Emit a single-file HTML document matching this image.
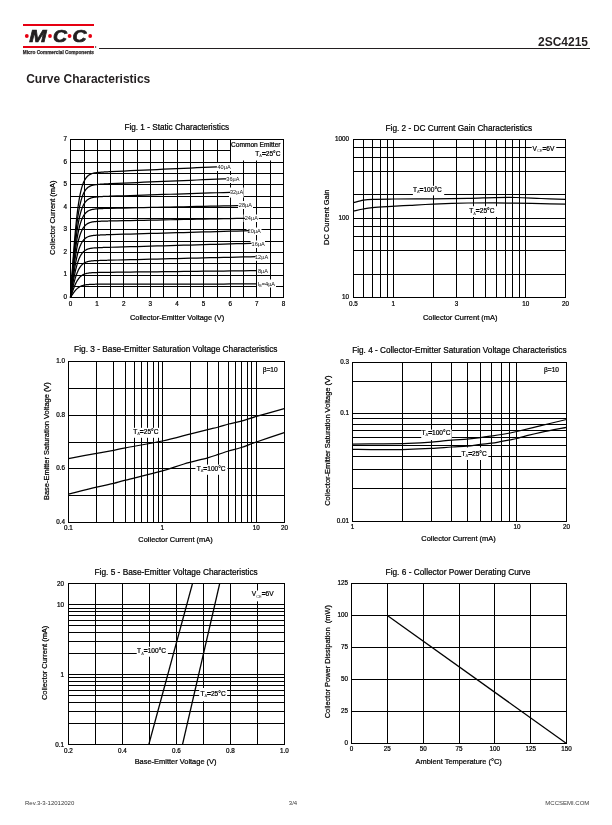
<!DOCTYPE html><html><head><meta charset="utf-8"><style>html,body{margin:0;padding:0;background:#fff;width:612px;height:825px;overflow:hidden}svg{display:block;font-family:"Liberation Sans",sans-serif;will-change:transform} text.t{stroke:#000;stroke-width:0.22px}</style></head><body>
<svg width="612" height="825" viewBox="0 0 612 825">
<rect x="23" y="24" width="71" height="2" fill="#e60012"/>
<rect x="23" y="46" width="71" height="2" fill="#e60012"/>
<circle cx="26.8" cy="36" r="1.9" fill="#e60012"/>
<circle cx="50" cy="36" r="1.9" fill="#e60012"/>
<circle cx="69.6" cy="36" r="1.9" fill="#e60012"/>
<circle cx="90.2" cy="36" r="1.9" fill="#e60012"/>
<g font-size="17" font-weight="bold" font-style="italic" fill="#231f20" stroke="#231f20" stroke-width="0.7">
<text transform="translate(29.2 42.1) scale(1.22 1)">M</text><text transform="translate(53 42.1) scale(1.14 1)">C</text><text transform="translate(72.6 42.1) scale(1.14 1)">C</text></g>
<text x="22.7" y="53.8" font-size="5.6" font-weight="bold" fill="#231f20" stroke="#231f20" stroke-width="0.25" textLength="71.3" lengthAdjust="spacingAndGlyphs">Micro Commercial Components</text>
<circle cx="95.6" cy="47" r="0.7" fill="#231f20"/>
<line x1="99" y1="48.5" x2="590" y2="48.5" stroke="#231f20" stroke-width="1"/>
<g font-size="12" font-weight="bold" fill="#231f20"><text x="588" y="45.5" text-anchor="end">2SC4215</text><text x="26.2" y="83.3">Curve Characteristics</text></g>
<g font-size="6" fill="#3a3a3a"><text x="25" y="805.1">Rev.3-3-12012020</text><text x="293" y="805" text-anchor="middle">3/4</text><text x="589.3" y="805.1" text-anchor="end">MCCSEMI.COM</text></g>
<text class="t" x="176.75" y="130.2" font-size="8.2" text-anchor="middle" font-weight="normal" fill="#000" >Fig. 1 - Static Characteristics</text>
<path d="M84.5 139V298M97.5 139V298M110.5 139V298M123.5 139V298M137.5 139V298M150.5 139V298M163.5 139V298M177.5 139V298M190.5 139V298M203.5 139V298M217.5 139V298M230.5 139V298M243.5 139V298M256.5 139V298M270.5 139V298M70 286.5H284M70 275.5H284M70 263.5H284M70 252.5H284M70 241.5H284M70 229.5H284M70 218.5H284M70 207.5H284M70 196.5H284M70 184.5H284M70 173.5H284M70 162.5H284M70 150.5H284" stroke="#000" stroke-width="1.0" fill="none"/>
<rect x="215.5" y="163" width="15.7" height="8" fill="#fff"/>
<rect x="225" y="175" width="15.2" height="8" fill="#fff"/>
<rect x="229" y="187.5" width="14.7" height="10.1" fill="#fff"/>
<rect x="238" y="201" width="15" height="8" fill="#fff"/>
<rect x="243.5" y="214.5" width="15.3" height="7.5" fill="#fff"/>
<rect x="246.5" y="227.5" width="15" height="7.5" fill="#fff"/>
<rect x="250.5" y="240.5" width="14.5" height="7.5" fill="#fff"/>
<rect x="254" y="253" width="14.5" height="7.8" fill="#fff"/>
<rect x="257" y="266.5" width="11.5" height="8" fill="#fff"/>
<rect x="257" y="279.5" width="19" height="8" fill="#fff"/>
<rect x="231" y="140" width="52.5" height="20.5" fill="#fff"/>
<path d="M70.5 297.5 L71.03 296.64 L71.56 295.79 L72.1 294.95 L72.63 294.14 L73.16 293.35 L73.69 292.59 L74.23 291.86 L74.76 291.18 L75.29 290.53 L75.83 289.93 L76.36 289.37 L76.89 288.85 L77.42 288.38 L77.95 287.94 L78.49 287.54 L79.02 287.18 L79.55 286.86 L80.09 286.56 L80.62 286.3 L81.15 286.06 L81.68 285.84 L82.22 285.65 L82.75 285.49 L83.28 285.33 L83.81 285.2 L84.34 285.08 L84.88 284.98 L85.41 284.88 L85.94 284.8 L86.48 284.73 L87.01 284.66 L87.54 284.6 L88.07 284.55 L88.61 284.51 L89.14 284.47 L89.67 284.44 L90.2 284.41 L90.74 284.38 L91.27 284.36 L91.8 284.33 L92.33 284.32 L92.87 284.3 L93.4 284.29 L93.93 284.27 L94.46 284.26 L95 284.25 L95.53 284.24 L96.06 284.24 L96.59 284.23 L97.13 284.22 L97.66 284.22 L98.19 284.21 L98.72 284.21 L99.26 284.2 L99.79 284.2 L100.32 284.2 L100.85 284.19 L101.39 284.19 L101.92 284.19 L102.45 284.19 L102.98 284.18 L103.52 284.18 L104.05 284.18 L104.58 284.18 L105.11 284.18 L105.65 284.18 L106.18 284.17 L106.71 284.17 L107.24 284.17 L107.78 284.17 L108.31 284.17 L108.84 284.17 L109.37 284.17 L109.91 284.17 L110.44 284.17 L117.09 284.15 L123.75 284.15 L130.41 284.14 L137.06 284.13 L143.72 284.12 L150.38 284.11 L157.03 284.1 L163.69 284.09 L170.34 284.08 L177 284.07 L183.66 284.06 L190.31 284.05 L196.97 284.04 L203.63 284.03 L210.28 284.02 L216.94 284.01 L223.59 284 L230.25 283.99 L236.91 283.99 L243.56 283.98 L250.22 283.97 L256.88 283.96" stroke="#000" stroke-width="1.25" fill="none" stroke-linejoin="round"/>
<path d="M70.5 297.5 L71.03 295.89 L71.56 294.29 L72.1 292.71 L72.63 291.17 L73.16 289.69 L73.69 288.26 L74.23 286.9 L74.76 285.61 L75.29 284.39 L75.83 283.26 L76.36 282.2 L76.89 281.23 L77.42 280.33 L77.95 279.51 L78.49 278.77 L79.02 278.09 L79.55 277.47 L80.09 276.92 L80.62 276.42 L81.15 275.97 L81.68 275.57 L82.22 275.22 L82.75 274.9 L83.28 274.61 L83.81 274.36 L84.34 274.14 L84.88 273.94 L85.41 273.76 L85.94 273.61 L86.48 273.47 L87.01 273.35 L87.54 273.24 L88.07 273.14 L88.61 273.06 L89.14 272.99 L89.67 272.92 L90.2 272.87 L90.74 272.81 L91.27 272.77 L91.8 272.73 L92.33 272.7 L92.87 272.67 L93.4 272.64 L93.93 272.62 L94.46 272.6 L95 272.58 L95.53 272.56 L96.06 272.55 L96.59 272.54 L97.13 272.52 L97.66 272.51 L98.19 272.49 L98.72 272.48 L99.26 272.47 L99.79 272.46 L100.32 272.45 L100.85 272.44 L101.39 272.43 L101.92 272.42 L102.45 272.41 L102.98 272.4 L103.52 272.39 L104.05 272.38 L104.58 272.37 L105.11 272.37 L105.65 272.36 L106.18 272.35 L106.71 272.35 L107.24 272.34 L107.78 272.33 L108.31 272.32 L108.84 272.32 L109.37 272.31 L109.91 272.3 L110.44 272.3 L117.09 272.22 L123.75 272.14 L130.41 272.07 L137.06 271.99 L143.72 271.92 L150.38 271.84 L157.03 271.77 L163.69 271.69 L170.34 271.62 L177 271.54 L183.66 271.47 L190.31 271.39 L196.97 271.32 L203.63 271.24 L210.28 271.17 L216.94 271.09 L223.59 271.02 L230.25 270.94 L236.91 270.87 L243.56 270.79 L250.22 270.72 L256.88 270.64" stroke="#000" stroke-width="1.25" fill="none" stroke-linejoin="round"/>
<path d="M70.5 297.5 L71.03 295.12 L71.56 292.75 L72.1 290.42 L72.63 288.15 L73.16 285.96 L73.69 283.85 L74.23 281.83 L74.76 279.93 L75.29 278.14 L75.83 276.46 L76.36 274.9 L76.89 273.46 L77.42 272.14 L77.95 270.93 L78.49 269.82 L79.02 268.82 L79.55 267.91 L80.09 267.09 L80.62 266.36 L81.15 265.69 L81.68 265.1 L82.22 264.57 L82.75 264.1 L83.28 263.68 L83.81 263.31 L84.34 262.98 L84.88 262.69 L85.41 262.43 L85.94 262.2 L86.48 261.99 L87.01 261.81 L87.54 261.66 L88.07 261.52 L88.61 261.39 L89.14 261.28 L89.67 261.19 L90.2 261.1 L90.74 261.03 L91.27 260.96 L91.8 260.9 L92.33 260.85 L92.87 260.81 L93.4 260.77 L93.93 260.74 L94.46 260.7 L95 260.68 L95.53 260.65 L96.06 260.63 L96.59 260.62 L97.13 260.6 L97.66 260.57 L98.19 260.55 L98.72 260.52 L99.26 260.5 L99.79 260.48 L100.32 260.46 L100.85 260.44 L101.39 260.42 L101.92 260.4 L102.45 260.39 L102.98 260.37 L103.52 260.35 L104.05 260.34 L104.58 260.32 L105.11 260.31 L105.65 260.29 L106.18 260.28 L106.71 260.26 L107.24 260.25 L107.78 260.23 L108.31 260.22 L108.84 260.21 L109.37 260.19 L109.91 260.18 L110.44 260.17 L117.09 260 L123.75 259.84 L130.41 259.68 L137.06 259.52 L143.72 259.35 L150.38 259.19 L157.03 259.03 L163.69 258.87 L170.34 258.71 L177 258.55 L183.66 258.39 L190.31 258.23 L196.97 258.06 L203.63 257.9 L210.28 257.74 L216.94 257.58 L223.59 257.42 L230.25 257.26 L236.91 257.1 L243.56 256.94 L250.22 256.77 L255.54 256.65" stroke="#000" stroke-width="1.25" fill="none" stroke-linejoin="round"/>
<path d="M70.5 297.5 L71.03 294.29 L71.56 291.1 L72.1 287.96 L72.63 284.91 L73.16 281.94 L73.69 279.1 L74.23 276.39 L74.76 273.82 L75.29 271.4 L75.83 269.15 L76.36 267.05 L76.89 265.11 L77.42 263.32 L77.95 261.69 L78.49 260.2 L79.02 258.85 L79.55 257.63 L80.09 256.52 L80.62 255.53 L81.15 254.64 L81.68 253.84 L82.22 253.13 L82.75 252.5 L83.28 251.93 L83.81 251.43 L84.34 250.98 L84.88 250.59 L85.41 250.24 L85.94 249.93 L86.48 249.65 L87.01 249.41 L87.54 249.2 L88.07 249.01 L88.61 248.84 L89.14 248.7 L89.67 248.57 L90.2 248.45 L90.74 248.35 L91.27 248.26 L91.8 248.19 L92.33 248.12 L92.87 248.06 L93.4 248 L93.93 247.96 L94.46 247.92 L95 247.88 L95.53 247.85 L96.06 247.82 L96.59 247.8 L97.13 247.77 L97.66 247.74 L98.19 247.71 L98.72 247.68 L99.26 247.65 L99.79 247.63 L100.32 247.6 L100.85 247.58 L101.39 247.56 L101.92 247.53 L102.45 247.51 L102.98 247.49 L103.52 247.47 L104.05 247.45 L104.58 247.44 L105.11 247.42 L105.65 247.4 L106.18 247.38 L106.71 247.37 L107.24 247.35 L107.78 247.33 L108.31 247.32 L108.84 247.3 L109.37 247.29 L109.91 247.27 L110.44 247.25 L117.09 247.06 L123.75 246.88 L130.41 246.69 L137.06 246.51 L143.72 246.32 L150.38 246.14 L157.03 245.95 L163.69 245.77 L170.34 245.58 L177 245.4 L183.66 245.21 L190.31 245.03 L196.97 244.84 L203.63 244.66 L210.28 244.47 L216.94 244.29 L223.59 244.1 L230.25 243.92 L236.91 243.74 L243.56 243.55 L250.22 243.37 L251.55 243.33" stroke="#000" stroke-width="1.25" fill="none" stroke-linejoin="round"/>
<path d="M70.5 297.5 L71.03 293.47 L71.56 289.48 L72.1 285.55 L72.63 281.71 L73.16 278 L73.69 274.44 L74.23 271.04 L74.76 267.82 L75.29 264.79 L75.83 261.96 L76.36 259.33 L76.89 256.9 L77.42 254.66 L77.95 252.62 L78.49 250.75 L79.02 249.06 L79.55 247.52 L80.09 246.14 L80.62 244.9 L81.15 243.78 L81.68 242.78 L82.22 241.89 L82.75 241.09 L83.28 240.38 L83.81 239.75 L84.34 239.2 L84.88 238.7 L85.41 238.26 L85.94 237.87 L86.48 237.53 L87.01 237.23 L87.54 236.96 L88.07 236.72 L88.61 236.51 L89.14 236.33 L89.67 236.17 L90.2 236.02 L90.74 235.9 L91.27 235.79 L91.8 235.69 L92.33 235.6 L92.87 235.53 L93.4 235.46 L93.93 235.4 L94.46 235.35 L95 235.31 L95.53 235.27 L96.06 235.23 L96.59 235.2 L97.13 235.17 L97.66 235.14 L98.19 235.1 L98.72 235.07 L99.26 235.03 L99.79 235.01 L100.32 234.98 L100.85 234.95 L101.39 234.93 L101.92 234.9 L102.45 234.88 L102.98 234.86 L103.52 234.84 L104.05 234.82 L104.58 234.8 L105.11 234.78 L105.65 234.76 L106.18 234.74 L106.71 234.73 L107.24 234.71 L107.78 234.69 L108.31 234.67 L108.84 234.66 L109.37 234.64 L109.91 234.62 L110.44 234.61 L117.09 234.41 L123.75 234.23 L130.41 234.04 L137.06 233.85 L143.72 233.66 L150.38 233.47 L157.03 233.28 L163.69 233.1 L170.34 232.91 L177 232.72 L183.66 232.53 L190.31 232.34 L196.97 232.16 L203.63 231.97 L210.28 231.78 L216.94 231.59 L223.59 231.4 L230.25 231.22 L236.91 231.03 L243.56 230.84 L248.89 230.69" stroke="#000" stroke-width="1.25" fill="none" stroke-linejoin="round"/>
<path d="M70.5 297.5 L71.03 292.58 L71.56 287.71 L72.1 282.92 L72.63 278.24 L73.16 273.71 L73.69 269.36 L74.23 265.21 L74.76 261.28 L75.29 257.59 L75.83 254.14 L76.36 250.93 L76.89 247.96 L77.42 245.23 L77.95 242.73 L78.49 240.46 L79.02 238.39 L79.55 236.52 L80.09 234.83 L80.62 233.31 L81.15 231.95 L81.68 230.73 L82.22 229.64 L82.75 228.67 L83.28 227.81 L83.81 227.04 L84.34 226.36 L84.88 225.75 L85.41 225.22 L85.94 224.74 L86.48 224.32 L87.01 223.95 L87.54 223.63 L88.07 223.34 L88.61 223.08 L89.14 222.86 L89.67 222.66 L90.2 222.49 L90.74 222.33 L91.27 222.2 L91.8 222.08 L92.33 221.97 L92.87 221.88 L93.4 221.8 L93.93 221.73 L94.46 221.67 L95 221.61 L95.53 221.56 L96.06 221.52 L96.59 221.48 L97.13 221.45 L97.66 221.41 L98.19 221.37 L98.72 221.34 L99.26 221.31 L99.79 221.28 L100.32 221.26 L100.85 221.23 L101.39 221.21 L101.92 221.19 L102.45 221.17 L102.98 221.15 L103.52 221.13 L104.05 221.12 L104.58 221.1 L105.11 221.08 L105.65 221.07 L106.18 221.06 L106.71 221.04 L107.24 221.03 L107.78 221.02 L108.31 221 L108.84 220.99 L109.37 220.98 L109.91 220.97 L110.44 220.95 L117.09 220.81 L123.75 220.68 L130.41 220.55 L137.06 220.42 L143.72 220.28 L150.38 220.15 L157.03 220.02 L163.69 219.89 L170.34 219.75 L177 219.62 L183.66 219.49 L190.31 219.36 L196.97 219.23 L203.63 219.09 L210.28 218.96 L216.94 218.83 L223.59 218.7 L230.25 218.57 L236.91 218.43 L243.56 218.3 L244.89 218.27" stroke="#000" stroke-width="1.25" fill="none" stroke-linejoin="round"/>
<path d="M70.5 297.5 L71.03 291.77 L71.56 286.09 L72.1 280.5 L72.63 275.05 L73.16 269.77 L73.69 264.7 L74.23 259.86 L74.76 255.28 L75.29 250.98 L75.83 246.95 L76.36 243.21 L76.89 239.75 L77.42 236.57 L77.95 233.66 L78.49 231.01 L79.02 228.59 L79.55 226.41 L80.09 224.45 L80.62 222.68 L81.15 221.09 L81.68 219.67 L82.22 218.4 L82.75 217.27 L83.28 216.26 L83.81 215.36 L84.34 214.57 L84.88 213.86 L85.41 213.24 L85.94 212.69 L86.48 212.2 L87.01 211.77 L87.54 211.39 L88.07 211.05 L88.61 210.75 L89.14 210.49 L89.67 210.26 L90.2 210.06 L90.74 209.88 L91.27 209.72 L91.8 209.58 L92.33 209.46 L92.87 209.35 L93.4 209.26 L93.93 209.18 L94.46 209.1 L95 209.04 L95.53 208.98 L96.06 208.93 L96.59 208.89 L97.13 208.85 L97.66 208.8 L98.19 208.76 L98.72 208.73 L99.26 208.69 L99.79 208.66 L100.32 208.63 L100.85 208.6 L101.39 208.58 L101.92 208.56 L102.45 208.54 L102.98 208.51 L103.52 208.5 L104.05 208.48 L104.58 208.46 L105.11 208.44 L105.65 208.43 L106.18 208.41 L106.71 208.4 L107.24 208.38 L107.78 208.37 L108.31 208.35 L108.84 208.34 L109.37 208.33 L109.91 208.32 L110.44 208.3 L117.09 208.16 L123.75 208.02 L130.41 207.88 L137.06 207.74 L143.72 207.6 L150.38 207.46 L157.03 207.32 L163.69 207.18 L170.34 207.05 L177 206.91 L183.66 206.77 L190.31 206.63 L196.97 206.49 L203.63 206.35 L210.28 206.22 L216.94 206.08 L223.59 205.94 L230.25 205.8 L236.91 205.66 L238.24 205.63" stroke="#000" stroke-width="1.25" fill="none" stroke-linejoin="round"/>
<path d="M70.5 297.5 L71.03 291 L71.56 284.55 L72.1 278.21 L72.63 272.03 L73.16 266.04 L73.69 260.28 L74.23 254.8 L74.76 249.6 L75.29 244.72 L75.83 240.15 L76.36 235.91 L76.89 231.98 L77.42 228.37 L77.95 225.07 L78.49 222.06 L79.02 219.33 L79.55 216.85 L80.09 214.62 L80.62 212.61 L81.15 210.81 L81.68 209.2 L82.22 207.76 L82.75 206.47 L83.28 205.33 L83.81 204.32 L84.34 203.41 L84.88 202.61 L85.41 201.91 L85.94 201.28 L86.48 200.72 L87.01 200.24 L87.54 199.8 L88.07 199.42 L88.61 199.08 L89.14 198.79 L89.67 198.53 L90.2 198.3 L90.74 198.09 L91.27 197.91 L91.8 197.76 L92.33 197.62 L92.87 197.5 L93.4 197.39 L93.93 197.29 L94.46 197.21 L95 197.14 L95.53 197.07 L96.06 197.02 L96.59 196.97 L97.13 196.92 L97.66 196.87 L98.19 196.82 L98.72 196.77 L99.26 196.73 L99.79 196.69 L100.32 196.65 L100.85 196.61 L101.39 196.58 L101.92 196.55 L102.45 196.52 L102.98 196.49 L103.52 196.47 L104.05 196.44 L104.58 196.42 L105.11 196.39 L105.65 196.37 L106.18 196.35 L106.71 196.33 L107.24 196.31 L107.78 196.29 L108.31 196.27 L108.84 196.25 L109.37 196.23 L109.91 196.21 L110.44 196.19 L117.09 195.96 L123.75 195.75 L130.41 195.53 L137.06 195.32 L143.72 195.1 L150.38 194.89 L157.03 194.68 L163.69 194.46 L170.34 194.25 L177 194.03 L183.66 193.82 L190.31 193.6 L196.97 193.39 L203.63 193.17 L210.28 192.96 L216.94 192.75 L223.59 192.53 L230.25 192.32" stroke="#000" stroke-width="1.25" fill="none" stroke-linejoin="round"/>
<path d="M70.5 297.5 L71.03 290.2 L71.56 282.96 L72.1 275.84 L72.63 268.89 L73.16 262.17 L73.69 255.71 L74.23 249.55 L74.76 243.71 L75.29 238.22 L75.83 233.1 L76.36 228.33 L76.89 223.92 L77.42 219.87 L77.95 216.16 L78.49 212.78 L79.02 209.71 L79.55 206.93 L80.09 204.42 L80.62 202.17 L81.15 200.14 L81.68 198.33 L82.22 196.72 L82.75 195.27 L83.28 193.99 L83.81 192.85 L84.34 191.84 L84.88 190.94 L85.41 190.14 L85.94 189.44 L86.48 188.82 L87.01 188.27 L87.54 187.78 L88.07 187.35 L88.61 186.98 L89.14 186.64 L89.67 186.35 L90.2 186.09 L90.74 185.86 L91.27 185.66 L91.8 185.48 L92.33 185.33 L92.87 185.19 L93.4 185.07 L93.93 184.96 L94.46 184.87 L95 184.79 L95.53 184.72 L96.06 184.65 L96.59 184.6 L97.13 184.55 L97.66 184.48 L98.19 184.42 L98.72 184.37 L99.26 184.32 L99.79 184.27 L100.32 184.22 L100.85 184.18 L101.39 184.14 L101.92 184.1 L102.45 184.07 L102.98 184.03 L103.52 184 L104.05 183.97 L104.58 183.94 L105.11 183.91 L105.65 183.88 L106.18 183.85 L106.71 183.82 L107.24 183.8 L107.78 183.77 L108.31 183.75 L108.84 183.72 L109.37 183.7 L109.91 183.67 L110.44 183.65 L117.09 183.36 L123.75 183.08 L130.41 182.8 L137.06 182.52 L143.72 182.24 L150.38 181.96 L157.03 181.68 L163.69 181.4 L170.34 181.12 L177 180.84 L183.66 180.56 L190.31 180.28 L196.97 180 L203.63 179.72 L210.28 179.44 L216.94 179.17 L223.59 178.89 L226.26 178.77" stroke="#000" stroke-width="1.25" fill="none" stroke-linejoin="round"/>
<path d="M70.5 297.5 L71.03 289.43 L71.56 281.43 L72.1 273.55 L72.63 265.87 L73.16 258.44 L73.69 251.29 L74.23 244.48 L74.76 238.03 L75.29 231.97 L75.83 226.3 L76.36 221.02 L76.89 216.15 L77.42 211.67 L77.95 207.57 L78.49 203.83 L79.02 200.44 L79.55 197.37 L80.09 194.59 L80.62 192.1 L81.15 189.87 L81.68 187.86 L82.22 186.08 L82.75 184.48 L83.28 183.06 L83.81 181.8 L84.34 180.68 L84.88 179.69 L85.41 178.81 L85.94 178.03 L86.48 177.34 L87.01 176.73 L87.54 176.2 L88.07 175.72 L88.61 175.31 L89.14 174.94 L89.67 174.61 L90.2 174.33 L90.74 174.07 L91.27 173.85 L91.8 173.66 L92.33 173.49 L92.87 173.33 L93.4 173.2 L93.93 173.08 L94.46 172.98 L95 172.89 L95.53 172.81 L96.06 172.74 L96.59 172.68 L97.13 172.62 L97.66 172.55 L98.19 172.49 L98.72 172.42 L99.26 172.37 L99.79 172.32 L100.32 172.27 L100.85 172.22 L101.39 172.18 L101.92 172.14 L102.45 172.1 L102.98 172.06 L103.52 172.02 L104.05 171.99 L104.58 171.96 L105.11 171.92 L105.65 171.89 L106.18 171.86 L106.71 171.83 L107.24 171.81 L107.78 171.78 L108.31 171.75 L108.84 171.72 L109.37 171.7 L109.91 171.67 L110.44 171.64 L117.09 171.33 L123.75 171.03 L130.41 170.72 L137.06 170.42 L143.72 170.12 L150.38 169.82 L157.03 169.52 L163.69 169.22 L170.34 168.92 L177 168.62 L183.66 168.32 L190.31 168.02 L196.97 167.71 L203.63 167.41 L210.28 167.11 L216.94 166.81" stroke="#000" stroke-width="1.25" fill="none" stroke-linejoin="round"/>
<rect x="70.5" y="139.5" width="213" height="158" stroke="#000" stroke-width="1.0" fill="none" stroke-linecap="square"/>
<text x="217.5" y="169.2" font-size="5.6" fill="#111">40µA</text>
<text x="226.3" y="180.9" font-size="5.6" fill="#111">36µA</text>
<text x="230" y="194.3" font-size="5.6" fill="#111">32µA</text>
<text x="238.8" y="207.1" font-size="5.6" fill="#111">28µA</text>
<text x="244.7" y="220.3" font-size="5.6" fill="#111">24µA</text>
<text x="247.6" y="233.3" font-size="5.6" fill="#111">20µA</text>
<text x="251.6" y="246.2" font-size="5.6" fill="#111">16µA</text>
<text x="255" y="259" font-size="5.6" fill="#111">12µA</text>
<text x="258" y="272.5" font-size="5.6" fill="#111">8µA</text>
<text x="257.8" y="285.5" font-size="5.6" fill="#000">I<tspan font-size="3.6" dy="1.2">B</tspan><tspan dy="-1.2">=4µA</tspan></text>
<text class="t" x="280.5" y="146.6" font-size="6.6" text-anchor="end" font-weight="normal" fill="#000" >Common Emitter</text>
<text class="t" x="280.5" y="155.7" font-size="6.6" text-anchor="end" fill="#000">T<tspan font-size="3.96" dy="1.6" stroke="none" fill="#333">A</tspan><tspan dy="-1.6"><tspan stroke-width="0.5">=</tspan>25°C</tspan></text>
<text class="t" x="66.9" y="299" font-size="6.3" text-anchor="end" font-weight="normal" fill="#000" >0</text>
<text class="t" x="66.9" y="276.43" font-size="6.3" text-anchor="end" font-weight="normal" fill="#000" >1</text>
<text class="t" x="66.9" y="253.86" font-size="6.3" text-anchor="end" font-weight="normal" fill="#000" >2</text>
<text class="t" x="66.9" y="231.29" font-size="6.3" text-anchor="end" font-weight="normal" fill="#000" >3</text>
<text class="t" x="66.9" y="208.71" font-size="6.3" text-anchor="end" font-weight="normal" fill="#000" >4</text>
<text class="t" x="66.9" y="186.14" font-size="6.3" text-anchor="end" font-weight="normal" fill="#000" >5</text>
<text class="t" x="66.9" y="163.57" font-size="6.3" text-anchor="end" font-weight="normal" fill="#000" >6</text>
<text class="t" x="66.9" y="141" font-size="6.3" text-anchor="end" font-weight="normal" fill="#000" >7</text>
<text class="t" x="70.5" y="306.2" font-size="6.3" text-anchor="middle" font-weight="normal" fill="#000" >0</text>
<text class="t" x="97.12" y="306.2" font-size="6.3" text-anchor="middle" font-weight="normal" fill="#000" >1</text>
<text class="t" x="123.75" y="306.2" font-size="6.3" text-anchor="middle" font-weight="normal" fill="#000" >2</text>
<text class="t" x="150.38" y="306.2" font-size="6.3" text-anchor="middle" font-weight="normal" fill="#000" >3</text>
<text class="t" x="177" y="306.2" font-size="6.3" text-anchor="middle" font-weight="normal" fill="#000" >4</text>
<text class="t" x="203.62" y="306.2" font-size="6.3" text-anchor="middle" font-weight="normal" fill="#000" >5</text>
<text class="t" x="230.25" y="306.2" font-size="6.3" text-anchor="middle" font-weight="normal" fill="#000" >6</text>
<text class="t" x="256.88" y="306.2" font-size="6.3" text-anchor="middle" font-weight="normal" fill="#000" >7</text>
<text class="t" x="283.5" y="306.2" font-size="6.3" text-anchor="middle" font-weight="normal" fill="#000" >8</text>
<text class="t" x="177" y="320" font-size="7.45" text-anchor="middle" font-weight="normal" fill="#000" >Collector-Emitter Voltage (V)</text>
<text class="t" transform="translate(55 217.8) rotate(-90)" x="0" y="0" font-size="7.45" text-anchor="middle" fill="#000">Collector Current (mA)</text>
<text class="t" x="458.8" y="130.5" font-size="8.27" text-anchor="middle" font-weight="normal" fill="#000" >Fig. 2 - DC Current Gain Characteristics</text>
<path d="M363.5 139V298M372.5 139V298M380.5 139V298M387.5 139V298M393.5 139V298M433.5 139V298M456.5 139V298M473.5 139V298M485.5 139V298M496.5 139V298M505.5 139V298M512.5 139V298M519.5 139V298M525.5 139V298M353 147.5H566M353 157.5H566M353 171.5H566M353 194.5H566M353 218.5H566M353 226.5H566M353 236.5H566M353 250.5H566M353 274.5H566" stroke="#000" stroke-width="1.0" fill="none"/>
<rect x="412.9" y="185.8" width="31.3" height="9.6" fill="#fff"/>
<rect x="467" y="206.25" width="30" height="10.75" fill="#fff"/>
<rect x="531.7" y="143" width="24.55" height="10" fill="#fff"/>
<path d="M353.7 202.6C355.32 202.2 360.27 200.75 363.4 200.2C366.53 199.65 367.52 199.5 372.5 199.3C377.48 199.1 383.22 199.08 393.3 199C403.38 198.92 420.55 198.9 433 198.8C445.45 198.7 457.67 198.6 468 198.4C478.33 198.2 487 197.75 495 197.6C503 197.45 508.33 197.35 516 197.5C523.67 197.65 532.75 198.2 541 198.5C549.25 198.8 561.42 199.17 565.5 199.3" stroke="#000" stroke-width="1.25" fill="none" stroke-linejoin="round"/>
<path d="M353.7 211C355.32 210.67 360.27 209.55 363.4 209C366.53 208.45 368.48 208.1 372.5 207.7C376.52 207.3 381.25 207 387.5 206.6C393.75 206.2 402.33 205.72 410 205.3C417.67 204.88 423.83 204.48 433.5 204.1C443.17 203.72 457.75 203.22 468 203C478.25 202.78 487 202.77 495 202.8C503 202.83 508.33 203.07 516 203.2C523.67 203.33 532.75 203.45 541 203.6C549.25 203.75 561.42 204.02 565.5 204.1" stroke="#000" stroke-width="1.25" fill="none" stroke-linejoin="round"/>
<rect x="353.5" y="139.5" width="212" height="158" stroke="#000" stroke-width="1.0" fill="none" stroke-linecap="square"/>
<text class="t" x="412.9" y="191.7" font-size="6.6" text-anchor="start" fill="#000">T<tspan font-size="3.96" dy="1.6" stroke="none" fill="#333">A</tspan><tspan dy="-1.6"><tspan stroke-width="0.5">=</tspan>100°C</tspan></text>
<text class="t" x="469.2" y="212.9" font-size="6.6" text-anchor="start" fill="#000">T<tspan font-size="3.96" dy="1.6" stroke="none" fill="#333">A</tspan><tspan dy="-1.6"><tspan stroke-width="0.5">=</tspan>25°C</tspan></text>
<text class="t" x="532.5" y="150.8" font-size="6.6" text-anchor="start" fill="#000">V<tspan font-size="3.96" dy="1.6" stroke="none" fill="#333">CE</tspan><tspan dy="-1.6"><tspan stroke-width="0.5">=</tspan>6V</tspan></text>
<text class="t" x="349.1" y="140.7" font-size="6.3" text-anchor="end" font-weight="normal" fill="#000" >1000</text>
<text class="t" x="349.1" y="219.7" font-size="6.3" text-anchor="end" font-weight="normal" fill="#000" >100</text>
<text class="t" x="349.1" y="298.7" font-size="6.3" text-anchor="end" font-weight="normal" fill="#000" >10</text>
<text class="t" x="353.5" y="306" font-size="6.3" text-anchor="middle" font-weight="normal" fill="#000" >0.5</text>
<text class="t" x="393.34" y="306" font-size="6.3" text-anchor="middle" font-weight="normal" fill="#000" >1</text>
<text class="t" x="456.47" y="306" font-size="6.3" text-anchor="middle" font-weight="normal" fill="#000" >3</text>
<text class="t" x="525.66" y="306" font-size="6.3" text-anchor="middle" font-weight="normal" fill="#000" >10</text>
<text class="t" x="565.5" y="306" font-size="6.3" text-anchor="middle" font-weight="normal" fill="#000" >20</text>
<text class="t" x="460.2" y="320" font-size="7.45" text-anchor="middle" font-weight="normal" fill="#000" >Collector Current (mA)</text>
<text class="t" transform="translate(329.2 217.2) rotate(-90)" x="0" y="0" font-size="7.45" text-anchor="middle" fill="#000">DC Current Gain</text>
<text class="t" x="175.8" y="352.3" font-size="8.3" text-anchor="middle" font-weight="normal" fill="#000" >Fig. 3 - Base-Emitter Saturation Voltage Characteristics</text>
<path d="M96.5 361V523M113.5 361V523M125.5 361V523M134.5 361V523M141.5 361V523M147.5 361V523M153.5 361V523M158.5 361V523M162.5 361V523M190.5 361V523M207.5 361V523M218.5 361V523M228.5 361V523M235.5 361V523M241.5 361V523M247.5 361V523M251.5 361V523M256.5 361V523M68 495.5H285M68 468.5H285M68 442.5H285M68 415.5H285M68 388.5H285" stroke="#000" stroke-width="1.0" fill="none"/>
<rect x="131" y="427.8" width="29.5" height="10" fill="#fff"/>
<rect x="195.4" y="464.6" width="32.1" height="10.2" fill="#fff"/>
<path d="M68.5 458.7C73.18 457.8 89.07 454.7 96.6 453.3C104.13 451.9 108.88 451.22 113.7 450.3C118.52 449.38 117.38 449.35 125.5 447.8C133.62 446.25 151.52 443.33 162.4 441C173.28 438.67 183.25 435.7 190.8 433.8C198.35 431.9 203.08 430.73 207.7 429.6C212.32 428.47 215.02 427.93 218.5 427C221.98 426.07 224.8 424.98 228.6 424C232.4 423.02 236.67 422.37 241.3 421.1C245.93 419.83 249.25 418.47 256.4 416.4C263.55 414.33 279.57 409.98 284.2 408.7" stroke="#000" stroke-width="1.25" fill="none" stroke-linejoin="round"/>
<path d="M68.5 494.2C73.18 493.02 89.07 488.9 96.6 487.1C104.13 485.3 108.88 484.55 113.7 483.4C118.52 482.25 117.38 482.28 125.5 480.2C133.62 478.12 152.65 473.6 162.4 470.9C172.15 468.2 176.45 466.18 184 464C191.55 461.82 201.95 459.4 207.7 457.8C213.45 456.2 215.02 455.53 218.5 454.4C221.98 453.27 224.8 452.15 228.6 451C232.4 449.85 236.67 449 241.3 447.5C245.93 446 249.25 444.47 256.4 442C263.55 439.53 279.57 434.25 284.2 432.7" stroke="#000" stroke-width="1.25" fill="none" stroke-linejoin="round"/>
<rect x="68.5" y="361.5" width="216" height="161" stroke="#000" stroke-width="1.0" fill="none" stroke-linecap="square"/>
<text class="t" x="133.2" y="433.7" font-size="6.6" text-anchor="start" fill="#000">T<tspan font-size="3.96" dy="1.6" stroke="none" fill="#333">A</tspan><tspan dy="-1.6"><tspan stroke-width="0.5">=</tspan>25°C</tspan></text>
<text class="t" x="196.7" y="470.8" font-size="6.6" text-anchor="start" fill="#000">T<tspan font-size="3.96" dy="1.6" stroke="none" fill="#333">A</tspan><tspan dy="-1.6"><tspan stroke-width="0.5">=</tspan>100°C</tspan></text>
<text class="t" x="262.7" y="371.7" font-size="6.6" text-anchor="start" font-weight="normal" fill="#000" >β=10</text>
<text class="t" x="64.9" y="362.9" font-size="6.3" text-anchor="end" font-weight="normal" fill="#000" >1.0</text>
<text class="t" x="64.9" y="416.57" font-size="6.3" text-anchor="end" font-weight="normal" fill="#000" >0.8</text>
<text class="t" x="64.9" y="470.23" font-size="6.3" text-anchor="end" font-weight="normal" fill="#000" >0.6</text>
<text class="t" x="64.9" y="523.9" font-size="6.3" text-anchor="end" font-weight="normal" fill="#000" >0.4</text>
<text class="t" x="68.5" y="530" font-size="6.3" text-anchor="middle" font-weight="normal" fill="#000" >0.1</text>
<text class="t" x="162.37" y="530" font-size="6.3" text-anchor="middle" font-weight="normal" fill="#000" >1</text>
<text class="t" x="256.24" y="530" font-size="6.3" text-anchor="middle" font-weight="normal" fill="#000" >10</text>
<text class="t" x="284.5" y="530" font-size="6.3" text-anchor="middle" font-weight="normal" fill="#000" >20</text>
<text class="t" x="175.55" y="542" font-size="7.45" text-anchor="middle" font-weight="normal" fill="#000" >Collector Current (mA)</text>
<text class="t" transform="translate(49.3 441.1) rotate(-90)" x="0" y="0" font-size="7.45" text-anchor="middle" fill="#000">Base-Emitter Saturation Voltage (V)</text>
<text class="t" x="459.4" y="353.1" font-size="8.2" text-anchor="middle" font-weight="normal" fill="#000" >Fig. 4 - Collector-Emitter Saturation Voltage Characteristics</text>
<path d="M402.5 362V522M431.5 362V522M451.5 362V522M467.5 362V522M480.5 362V522M491.5 362V522M501.5 362V522M509.5 362V522M516.5 362V522M352 381.5H567M352 413.5H567M352 418.5H567M352 424.5H567M352 430.5H567M352 437.5H567M352 445.5H567M352 456.5H567M352 469.5H567M352 488.5H567" stroke="#000" stroke-width="1.0" fill="none"/>
<rect x="421.25" y="429.6" width="30.45" height="10.4" fill="#fff"/>
<rect x="461.25" y="447.5" width="27.05" height="12.5" fill="#fff"/>
<path d="M352.5 444C357.42 443.97 372.75 443.92 382 443.8C391.25 443.68 399.75 443.58 408 443.3C416.25 443.02 424.2 442.63 431.5 442.1C438.8 441.57 445.88 440.58 451.8 440.1C457.72 439.62 462.22 439.62 467 439.2C471.78 438.78 476.38 438.13 480.5 437.6C484.62 437.07 488.2 436.52 491.7 436C495.2 435.48 498.47 435 501.5 434.5C504.53 434 507.35 433.5 509.9 433C512.45 432.5 511.62 432.73 516.8 431.5C521.98 430.27 532.72 427.6 541 425.6C549.28 423.6 562.25 420.52 566.5 419.5" stroke="#000" stroke-width="1.25" fill="none" stroke-linejoin="round"/>
<path d="M352.5 449.4C357.08 449.45 370.75 449.7 380 449.7C389.25 449.7 399.42 449.62 408 449.4C416.58 449.18 424.2 448.8 431.5 448.4C438.8 448 445.88 447.37 451.8 447C457.72 446.63 462.22 446.63 467 446.2C471.78 445.77 476.38 444.9 480.5 444.4C484.62 443.9 488.2 443.7 491.7 443.2C495.2 442.7 498.47 441.95 501.5 441.4C504.53 440.85 507.35 440.38 509.9 439.9C512.45 439.42 514.12 439.17 516.8 438.5C519.48 437.83 521.97 436.93 526 435.9C530.03 434.87 534.25 433.72 541 432.3C547.75 430.88 562.25 428.22 566.5 427.4" stroke="#000" stroke-width="1.25" fill="none" stroke-linejoin="round"/>
<rect x="352.5" y="362.5" width="214" height="159" stroke="#000" stroke-width="1.0" fill="none" stroke-linecap="square"/>
<text class="t" x="421.5" y="434.8" font-size="6.6" text-anchor="start" fill="#000">T<tspan font-size="3.96" dy="1.6" stroke="none" fill="#333">A</tspan><tspan dy="-1.6"><tspan stroke-width="0.5">=</tspan>100°C</tspan></text>
<text class="t" x="461.5" y="455.8" font-size="6.6" text-anchor="start" fill="#000">T<tspan font-size="3.96" dy="1.6" stroke="none" fill="#333">A</tspan><tspan dy="-1.6"><tspan stroke-width="0.5">=</tspan>25°C</tspan></text>
<text class="t" x="544" y="372" font-size="6.6" text-anchor="start" font-weight="normal" fill="#000" >β=10</text>
<text class="t" x="348.9" y="363.75" font-size="6.3" text-anchor="end" font-weight="normal" fill="#000" >0.3</text>
<text class="t" x="348.9" y="415.11" font-size="6.3" text-anchor="end" font-weight="normal" fill="#000" >0.1</text>
<text class="t" x="348.9" y="522.75" font-size="6.3" text-anchor="end" font-weight="normal" fill="#000" >0.01</text>
<text class="t" x="352.5" y="529" font-size="6.3" text-anchor="middle" font-weight="normal" fill="#000" >1</text>
<text class="t" x="516.99" y="529" font-size="6.3" text-anchor="middle" font-weight="normal" fill="#000" >10</text>
<text class="t" x="566.5" y="529" font-size="6.3" text-anchor="middle" font-weight="normal" fill="#000" >20</text>
<text class="t" x="458.5" y="541.3" font-size="7.45" text-anchor="middle" font-weight="normal" fill="#000" >Collector Current (mA)</text>
<text class="t" transform="translate(330.3 440.7) rotate(-90)" x="0" y="0" font-size="7.45" text-anchor="middle" fill="#000">Collector-Emitter Saturation Voltage (V)</text>
<text class="t" x="176.15" y="575.2" font-size="8.3" text-anchor="middle" font-weight="normal" fill="#000" >Fig. 5 - Base-Emitter Voltage Characteristics</text>
<path d="M95.5 583V745M122.5 583V745M149.5 583V745M176.5 583V745M203.5 583V745M230.5 583V745M257.5 583V745M68 723.5H285M68 711.5H285M68 702.5H285M68 695.5H285M68 690.5H285M68 685.5H285M68 681.5H285M68 677.5H285M68 674.5H285M68 653.5H285M68 641.5H285M68 632.5H285M68 625.5H285M68 620.5H285M68 615.5H285M68 611.5H285M68 608.5H285M68 604.5H285" stroke="#000" stroke-width="1.0" fill="none"/>
<rect x="136.7" y="646.7" width="31.2" height="10" fill="#fff"/>
<rect x="199.2" y="688" width="27.9" height="13.25" fill="#fff"/>
<rect x="250.5" y="590.5" width="25.5" height="10.8" fill="#fff"/>
<path d="M148.8 744.5 L192.5 583.5" stroke="#000" stroke-width="1.25" fill="none" stroke-linejoin="round"/>
<path d="M182.5 744.5 L219.7 583.5" stroke="#000" stroke-width="1.25" fill="none" stroke-linejoin="round"/>
<rect x="68.5" y="583.5" width="216" height="161" stroke="#000" stroke-width="1.0" fill="none" stroke-linecap="square"/>
<text class="t" x="137.1" y="652.9" font-size="6.6" text-anchor="start" fill="#000">T<tspan font-size="3.96" dy="1.6" stroke="none" fill="#333">A</tspan><tspan dy="-1.6"><tspan stroke-width="0.5">=</tspan>100°C</tspan></text>
<text class="t" x="200.4" y="695.8" font-size="6.6" text-anchor="start" fill="#000">T<tspan font-size="3.96" dy="1.6" stroke="none" fill="#333">A</tspan><tspan dy="-1.6"><tspan stroke-width="0.5">=</tspan>25°C</tspan></text>
<text class="t" x="251.8" y="595.9" font-size="6.6" text-anchor="start" fill="#000">V<tspan font-size="3.96" dy="1.6" stroke="none" fill="#333">CE</tspan><tspan dy="-1.6"><tspan stroke-width="0.5">=</tspan>6V</tspan></text>
<text class="t" x="64.1" y="585.5" font-size="6.3" text-anchor="end" font-weight="normal" fill="#000" >20</text>
<text class="t" x="64.1" y="606.56" font-size="6.3" text-anchor="end" font-weight="normal" fill="#000" >10</text>
<text class="t" x="64.1" y="676.53" font-size="6.3" text-anchor="end" font-weight="normal" fill="#000" >1</text>
<text class="t" x="64.1" y="746.5" font-size="6.3" text-anchor="end" font-weight="normal" fill="#000" >0.1</text>
<text class="t" x="68.5" y="753.4" font-size="6.3" text-anchor="middle" font-weight="normal" fill="#000" >0.2</text>
<text class="t" x="122.5" y="753.4" font-size="6.3" text-anchor="middle" font-weight="normal" fill="#000" >0.4</text>
<text class="t" x="176.5" y="753.4" font-size="6.3" text-anchor="middle" font-weight="normal" fill="#000" >0.6</text>
<text class="t" x="230.5" y="753.4" font-size="6.3" text-anchor="middle" font-weight="normal" fill="#000" >0.8</text>
<text class="t" x="284.5" y="753.4" font-size="6.3" text-anchor="middle" font-weight="normal" fill="#000" >1.0</text>
<text class="t" x="175.6" y="763.8" font-size="7.45" text-anchor="middle" font-weight="normal" fill="#000" >Base-Emitter Voltage (V)</text>
<text class="t" transform="translate(47.4 662.9) rotate(-90)" x="0" y="0" font-size="7.45" text-anchor="middle" fill="#000">Collector Current (mA)</text>
<text class="t" x="458" y="574.8" font-size="8.3" text-anchor="middle" font-weight="normal" fill="#000" >Fig. 6 - Collector Power Derating Curve</text>
<path d="M387.5 583V744M423.5 583V744M459.5 583V744M494.5 583V744M530.5 583V744M351 711.5H567M351 679.5H567M351 647.5H567M351 615.5H567" stroke="#000" stroke-width="1.0" fill="none"/>
<path d="M387.33 615.5 L566.5 743.5" stroke="#000" stroke-width="1.25" fill="none" stroke-linejoin="round"/>
<rect x="351.5" y="583.5" width="215" height="160" stroke="#000" stroke-width="1.0" fill="none" stroke-linecap="square"/>
<text class="t" x="347.9" y="585.1" font-size="6.3" text-anchor="end" font-weight="normal" fill="#000" >125</text>
<text class="t" x="347.9" y="617.1" font-size="6.3" text-anchor="end" font-weight="normal" fill="#000" >100</text>
<text class="t" x="347.9" y="649.1" font-size="6.3" text-anchor="end" font-weight="normal" fill="#000" >75</text>
<text class="t" x="347.9" y="681.1" font-size="6.3" text-anchor="end" font-weight="normal" fill="#000" >50</text>
<text class="t" x="347.9" y="713.1" font-size="6.3" text-anchor="end" font-weight="normal" fill="#000" >25</text>
<text class="t" x="347.9" y="745.1" font-size="6.3" text-anchor="end" font-weight="normal" fill="#000" >0</text>
<text class="t" x="351.5" y="751.1" font-size="6.3" text-anchor="middle" font-weight="normal" fill="#000" >0</text>
<text class="t" x="387.33" y="751.1" font-size="6.3" text-anchor="middle" font-weight="normal" fill="#000" >25</text>
<text class="t" x="423.17" y="751.1" font-size="6.3" text-anchor="middle" font-weight="normal" fill="#000" >50</text>
<text class="t" x="459" y="751.1" font-size="6.3" text-anchor="middle" font-weight="normal" fill="#000" >75</text>
<text class="t" x="494.83" y="751.1" font-size="6.3" text-anchor="middle" font-weight="normal" fill="#000" >100</text>
<text class="t" x="530.67" y="751.1" font-size="6.3" text-anchor="middle" font-weight="normal" fill="#000" >125</text>
<text class="t" x="566.5" y="751.1" font-size="6.3" text-anchor="middle" font-weight="normal" fill="#000" >150</text>
<text class="t" x="458.65" y="764.2" font-size="7.45" text-anchor="middle" font-weight="normal" fill="#000" >Ambient Temperature (°C)</text>
<text class="t" transform="translate(329.6 661.7) rotate(-90)" x="0" y="0" font-size="7.45" text-anchor="middle" fill="#000">Collector Power Dissipation &#160;(mW)</text>
</svg></body></html>
